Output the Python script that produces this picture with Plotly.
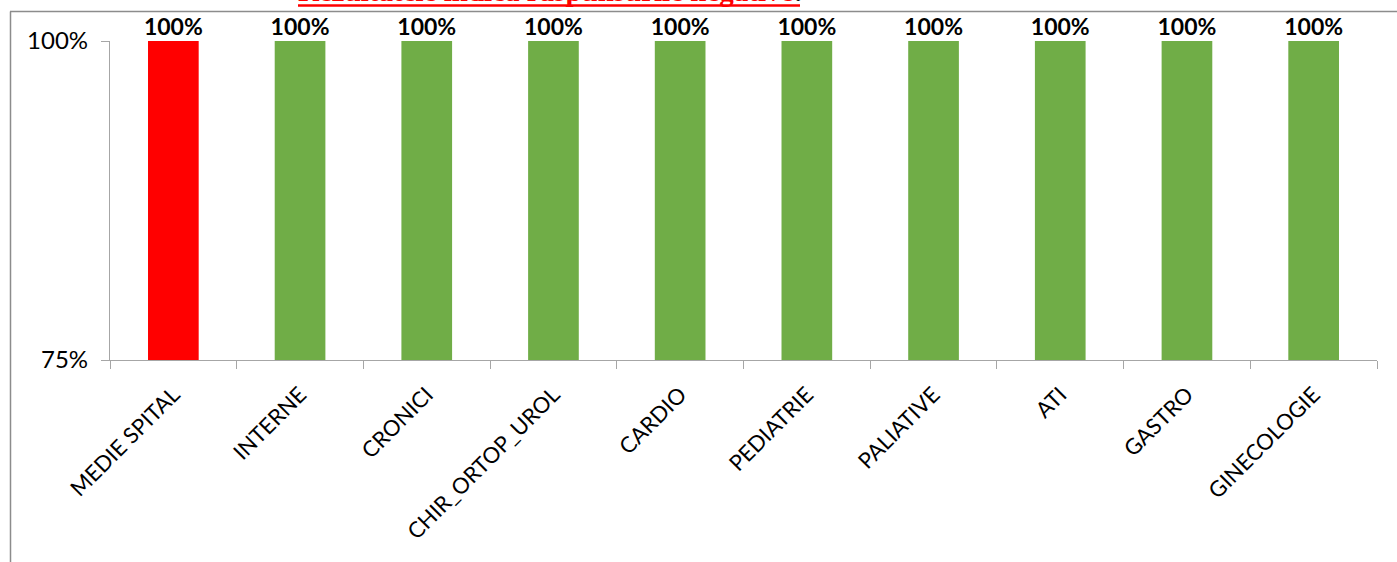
import plotly.graph_objects as go

categories = ["MEDIE SPITAL", "INTERNE", "CRONICI", "CHIR_ORTOP_UROL", "CARDIO",
              "PEDIATRIE", "PALIATIVE", "ATI", "GASTRO", "GINECOLOGIE"]
values = [1.0, 1.0, 1.0, 1.0, 1.0, 1.0, 1.0, 1.0, 1.0, 1.0]
bar_colors = ["#FF0000"] + ["#70AD47"] * 9
y_ticks = [0.75, 1.0]
y_tick_labels = ["75%", "100%"]
title_text = "Rezultatele indică răspunsurile negative"

W, H = 1397, 562
L, R, T, B = 110, 20, 41, 202
pw, ph = W - L - R, H - T - B

def px_x(x):
    return (x - L) / pw

def px_y(y):
    return (H - B - y) / ph

fig = go.Figure()
fig.add_trace(go.Bar(
    x=categories, y=values,
    marker=dict(color=bar_colors, line=dict(width=0)),
    hoverinfo="skip",
))
fig.add_trace(go.Scatter(
    x=categories, y=values, mode="text",
    texttemplate="<b>%{y:.0%}</b>", textposition="top center",
    textfont=dict(family="Lato", size=23, color="#000000"),
    cliponaxis=False, hoverinfo="skip",
))

grid = "#A6A6A6"
fig.update_layout(
    width=W, height=H,
    margin=dict(l=L, r=R, t=T, b=B),
    paper_bgcolor="white", plot_bgcolor="white",
    showlegend=False, bargap=0.6,
    font=dict(family="Lato", color="#000000"),
    xaxis=dict(
        type="category", tickangle=-45, tickson="boundaries",
        ticks="outside", ticklen=8, tickcolor=grid, tickwidth=1.3,
        showline=True, linecolor=grid, linewidth=1.3,
        tickfont=dict(family="Lato", size=22, color="#000000"),
        ticklabelstandoff=12, ticklabelshift=0,
        showgrid=False,
    ),
    yaxis=dict(
        range=[0.75, 1.0], tickvals=y_ticks, ticktext=y_tick_labels,
        ticks="outside", ticklen=8, tickcolor=grid, tickwidth=1.3,
        showline=True, linecolor=grid, linewidth=1.3,
        showgrid=True, gridcolor=grid, gridwidth=1.3,
        zeroline=False, ticklabelstandoff=8,
        tickfont=dict(family="Lato", size=24, color="#000000"),
    ),
    shapes=[
        dict(type="line", xref="paper", yref="paper",
             x0=px_x(10), x1=px_x(W + 10), y0=px_y(11.5), y1=px_y(11.5),
             line=dict(color="#8C8C8C", width=1.5)),
        dict(type="line", xref="paper", yref="paper",
             x0=px_x(10.5), x1=px_x(10.5), y0=px_y(11.5), y1=px_y(H + 10),
             line=dict(color="#8C8C8C", width=1.5)),
        dict(type="line", xref="paper", yref="paper",
             x0=px_x(298), x1=px_x(800), y0=px_y(5.5), y1=px_y(5.5),
             line=dict(color="#FF0000", width=2.5)),
    ],
    annotations=[
        dict(text="<b>" + title_text + "</b><span style='color:black'><b>:</b></span>",
             xref="paper", yref="paper", x=px_x(296), y=px_y(9),
             xanchor="left", yanchor="bottom", showarrow=False,
             font=dict(family="Liberation Serif", size=29, color="#FF0000")),
    ],
)

fig.write_html("out.html", config={"displayModeBar": False},
               post_script="document.body.style.margin='0';")
